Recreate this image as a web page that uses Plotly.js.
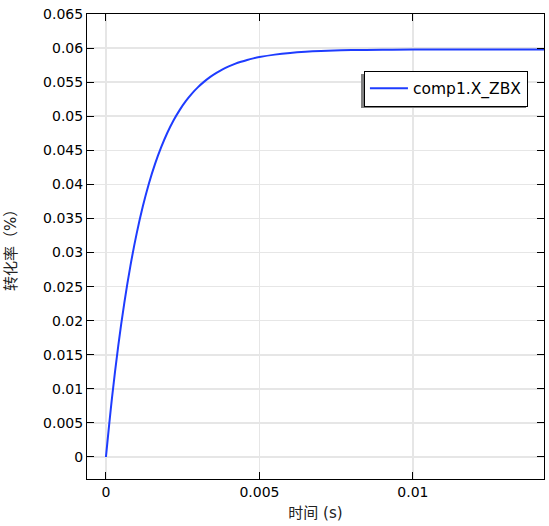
<!DOCTYPE html>
<html>
<head>
<meta charset="utf-8">
<script src="https://cdn.plot.ly/plotly-3.0.1.min.js"></script>
<style>html,body{margin:0;padding:0;background:#fff;}#chart{width:549px;height:526px;}</style>
</head>
<body>
<div id="chart"></div>
<script>
var timeS = [0, 0.0002, 0.0004, 0.0006, 0.0008, 0.0010, 0.0012, 0.0014, 0.0016, 0.0018, 0.0020, 0.0022, 0.0024, 0.0026, 0.0028, 0.0030, 0.0032, 0.0034, 0.0036, 0.0038, 0.0040, 0.0042, 0.0044, 0.0046, 0.0048, 0.0050, 0.0055, 0.0060, 0.0065, 0.0070, 0.0080, 0.0090, 0.0100, 0.0120, 0.0143];
var conversion = [0, 0.00878, 0.01627, 0.02265, 0.02811, 0.03277, 0.03674, 0.04013, 0.04300, 0.04545, 0.04757, 0.04937, 0.05090, 0.05221, 0.05332, 0.05427, 0.05508, 0.05578, 0.05637, 0.05688, 0.05731, 0.05768, 0.05799, 0.05826, 0.05849, 0.05868, 0.05904, 0.05929, 0.05946, 0.05957, 0.05970, 0.05975, 0.05978, 0.05980, 0.05980];
var seriesName = 'comp1.X_ZBX';
var xTicks = [0, 0.005, 0.01];
var xTickText = ['0', '0.005', '0.01'];
var yTicks = [0, 0.005, 0.01, 0.015, 0.02, 0.025, 0.03, 0.035, 0.04, 0.045, 0.05, 0.055, 0.06, 0.065];
var yTickText = ['0', '0.005', '0.01', '0.015', '0.02', '0.025', '0.03', '0.035', '0.04', '0.045', '0.05', '0.055', '0.06', '0.065'];

var font = 'DejaVu Sans, Noto Sans CJK SC, sans-serif';
var trace = {
  x: timeS, y: conversion, type: 'scatter', mode: 'lines', name: seriesName,
  line: {color: 'rgb(30,60,255)', width: 2, shape: 'spline', smoothing: 1},
  showlegend: true
};
var axisCommon = {
  showline: true, linecolor: '#000', linewidth: 1, mirror: 'ticks',
  ticks: 'inside', ticklen: 7, tickcolor: '#000', tickwidth: 1,
  showgrid: true, gridcolor: '#e6e6e6', gridwidth: 1.5, zeroline: false,
  tickfont: {family: font, size: 14, color: '#000'}
};
var layout = {
  width: 549, height: 526,
  margin: {l: 87, r: 5, t: 14, b: 47},
  paper_bgcolor: '#fff', plot_bgcolor: '#fff',
  font: {family: font, size: 14, color: '#000'},
  xaxis: Object.assign({}, axisCommon, {
    range: [-0.000617, 0.01427], tickvals: xTicks, ticktext: xTickText,
    title: {text: '时间 (s)', font: {family: font, size: 15, color: '#222'}, standoff: 8}
  }),
  yaxis: Object.assign({}, axisCommon, {
    range: [-0.00323, 0.065], tickvals: yTicks, ticktext: yTickText,
    title: {text: '转化率（%）', font: {family: font, size: 15, color: '#222'}, standoff: 22}
  }),
  legend: {
    x: 0.606, y: 0.878, xanchor: 'left', yanchor: 'top',
    bgcolor: '#fff', bordercolor: '#000', borderwidth: 1,
    itemwidth: 38,
    font: {family: font, size: 15.5, color: '#000'}
  },
  shapes: [{
    type: 'rect', xref: 'paper', yref: 'paper', layer: 'above',
    x0: (361 - 87) / 457, x1: (526 - 87) / 457,
    y0: (479 - 108) / 465, y1: (479 - 74) / 465,
    fillcolor: '#808080', line: {width: 0}
  }],
  showlegend: true
};
Plotly.newPlot('chart', [trace], layout, {displayModeBar: false, staticPlot: true});
</script>
</body>
</html>
